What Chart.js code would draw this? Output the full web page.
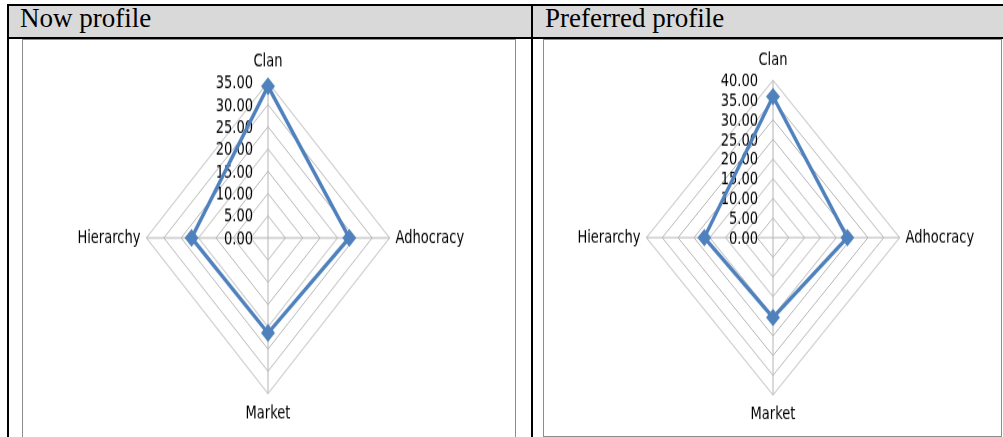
<!DOCTYPE html>
<html>
<head>
<meta charset="utf-8">
<script src="https://cdn.jsdelivr.net/npm/chart.js@4"></script>
<style>
  html, body { margin: 0; padding: 0; background: #fff; }
  body { width: 1003px; height: 437px; overflow: hidden; position: relative;
         font-family: "Liberation Serif", "Times New Roman", serif; }
  .rule { position: absolute; background: #000; }
  .head { position: absolute; top: 6px; height: 31px; background: #d9d9d9; }
  .htxt { position: absolute; top: 5px; font-size: 27px; line-height: 27px; color: #000; white-space: nowrap; }
  .frame { position: absolute; border: 1px solid #8c8c8c; box-sizing: border-box; background: #fff; }
  canvas { position: absolute; transform-origin: 0 0; }
</style>
</head>
<body>
  <!-- header cells -->
  <div class="head" style="left:9px;width:522px"></div>
  <div class="head" style="left:533px;width:470px"></div>
  <div class="htxt" style="left:20px">Now profile</div>
  <div class="htxt" style="left:545px">Preferred profile</div>

  <!-- chart frames -->
  <div class="frame" style="left:22px;top:39px;width:494px;height:420px"></div>
  <div class="frame" style="left:543px;top:39px;width:459px;height:398px"></div>

  <!-- table rules -->
  <div class="rule" style="left:7px;top:4px;width:996px;height:2px"></div>
  <div class="rule" style="left:7px;top:37px;width:996px;height:2px"></div>
  <div class="rule" style="left:7px;top:4px;width:2px;height:433px"></div>
  <div class="rule" style="left:531px;top:4px;width:2px;height:433px"></div>

  <canvas id="nowChart" width="490" height="292" style="left:23px;top:51.4px;transform:scaleY(1.28)"></canvas>
  <canvas id="prefChart" width="480" height="302" style="left:533px;top:50.4px;transform:scaleY(1.2425)"></canvas>

<script>
// Competing-values culture types, clockwise from the top
const categories = ['Clan', 'Adhocracy', 'Market', 'Hierarchy'];

// Profile scores per culture type
const nowProfile = [34.1, 23.4, 21.4, 22.0];
const preferredProfile = [35.9, 23.5, 20.3, 21.7];

// Radial axis ranges
const nowAxisMax = 35;
const preferredAxisMax = 40;
const axisStep = 5;

const labelFont = { family: "'DejaVu Sans Condensed', 'Liberation Sans Narrow', 'Noto Sans', sans-serif", size: 14.5 };
const textColor = '#000000';
const gridColor = '#b4b4b4';
const lineColor = '#4f81bd';

// Tick labels sit right-aligned beside the vertical axis, 0.00 included
const sideTicks = {
  id: 'sideTicks',
  beforeDatasetsDraw(chart) {
    const s = chart.scales.r;
    const ctx = chart.ctx;
    ctx.save();
    ctx.font = labelFont.size + 'px ' + labelFont.family;
    ctx.fillStyle = textColor;
    ctx.textAlign = 'right';
    ctx.textBaseline = 'middle';
    s.ticks.forEach(t => {
      const r = s.getDistanceFromCenterForValue(t.value);
      ctx.fillText(t.value.toFixed(2), s.xCenter - 15, s.yCenter - r + 1);
    });
    ctx.restore();
  }
};

function radar(id, values, axisMax) {
  new Chart(document.getElementById(id), {
    type: 'radar',
    data: {
      labels: categories,
      datasets: [{
        data: values,
        borderColor: lineColor,
        backgroundColor: lineColor,
        borderWidth: 3.3,
        fill: false,
        tension: 0,
        pointStyle: 'rectRot',
        pointRadius: 7,
        pointBorderWidth: 0,
        pointBackgroundColor: lineColor
      }]
    },
    options: {
      responsive: false,
      animation: false,
      events: [],
      plugins: { legend: { display: false }, tooltip: { enabled: false } },
      layout: { padding: 0 },
      scales: {
        r: {
          min: 0,
          max: axisMax,
          beginAtZero: true,
          ticks: { display: false, stepSize: axisStep, showLabelBackdrop: false },
          grid: { circular: false, color: gridColor, lineWidth: 1 },
          angleLines: { display: true, color: gridColor, lineWidth: 1 },
          pointLabels: {
            display: true,
            color: textColor,
            font: labelFont,
            padding: ctx => (ctx.index % 2 === 0 ? 7 : 6)
          }
        }
      }
    },
    plugins: [sideTicks]
  });
}

radar('nowChart', nowProfile, nowAxisMax);
radar('prefChart', preferredProfile, preferredAxisMax);
</script>
</body>
</html>
